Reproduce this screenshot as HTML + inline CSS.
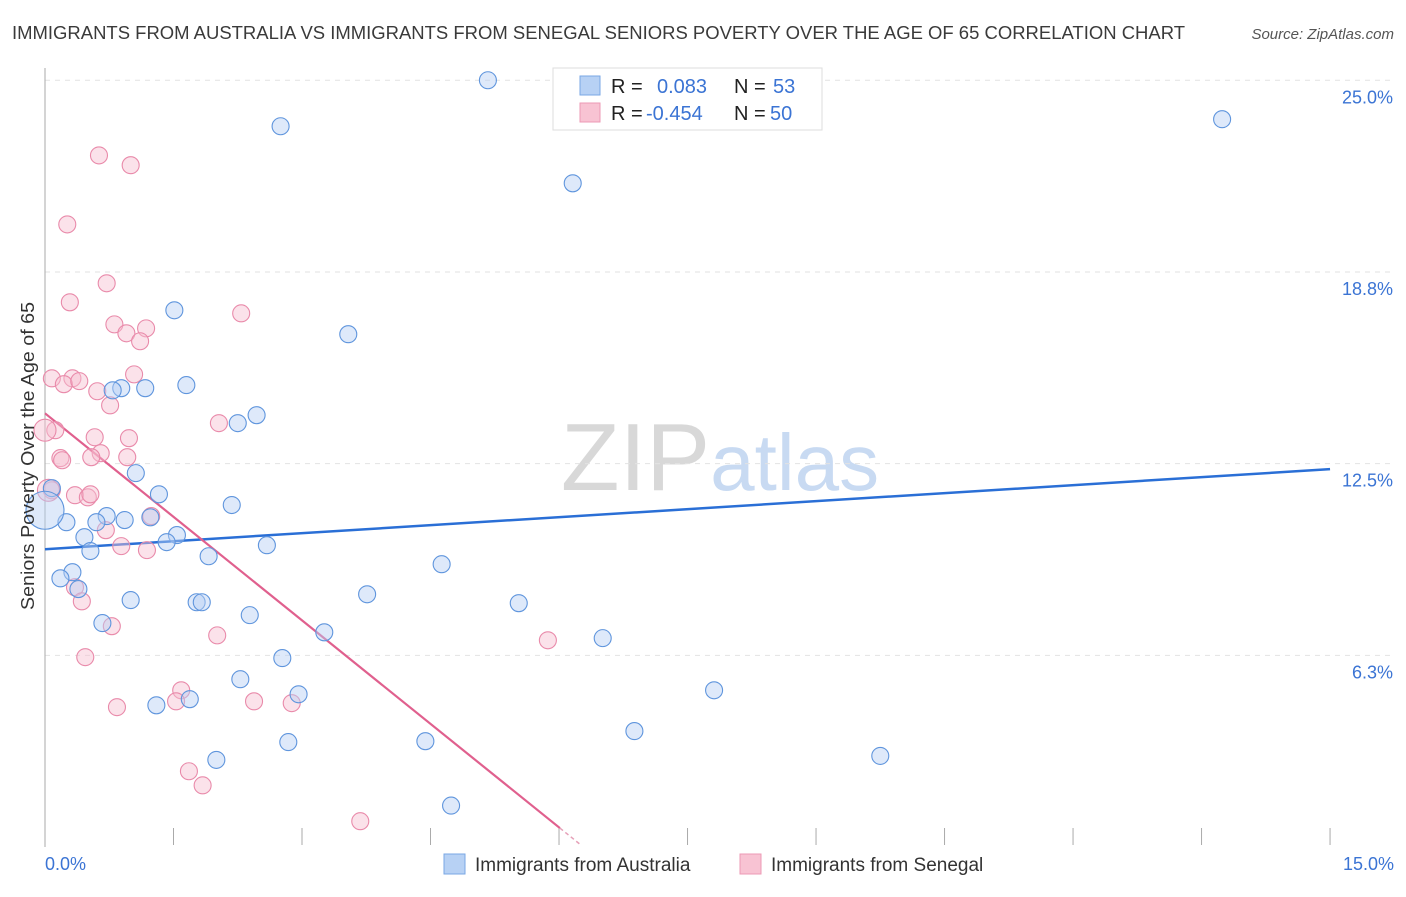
<!DOCTYPE html>
<html><head><meta charset="utf-8"><style>
body{margin:0;background:#fff;font-family:"Liberation Sans",sans-serif;}
svg text{font-family:"Liberation Sans",sans-serif;}
</style></head><body>
<svg id="chart" width="1406" height="892" xmlns="http://www.w3.org/2000/svg">
<text x="12" y="39" font-size="18" fill="#3a3a3a" textLength="1173" lengthAdjust="spacingAndGlyphs">IMMIGRANTS FROM AUSTRALIA VS IMMIGRANTS FROM SENEGAL SENIORS POVERTY OVER THE AGE OF 65 CORRELATION CHART</text>
<text x="1394" y="39" font-size="15" fill="#555" text-anchor="end" font-style="italic">Source: ZipAtlas.com</text>
<text x="720" y="490" font-size="96" text-anchor="middle" fill="#ddd" font-family="Liberation Serif"><tspan fill="#d8d8d8">ZIP</tspan><tspan fill="#c8daf2" font-family="Liberation Sans" font-size="80">atlas</tspan></text>
<g id="grid"></g>
<g id="axes"></g>
<g id="lines"></g>
<g id="pts"></g>
<text transform="translate(34,456) rotate(-90)" font-size="18" fill="#333" text-anchor="middle" textLength="308" lengthAdjust="spacingAndGlyphs">Seniors Poverty Over the Age of 65</text>
<text x="45" y="870" font-size="18" fill="#3b74d4">0.0%</text>
<text x="1394" y="870" font-size="18" fill="#3b74d4" text-anchor="end">15.0%</text>
<g>
<rect x="553" y="68" width="269" height="62" fill="#fff" stroke="#ddd"/>
<rect x="580" y="76" width="20" height="19" fill="#b7d1f4" stroke="#7aa7e4"/>
<rect x="580" y="103" width="20" height="19" fill="#f8c3d3" stroke="#ec9ab4"/>
<text y="93" font-size="20" fill="#222"><tspan x="611">R =</tspan><tspan x="657" fill="#3b74d4">0.083</tspan><tspan x="734">N =</tspan><tspan x="773" fill="#3b74d4">53</tspan></text>
<text y="120" font-size="20" fill="#222"><tspan x="611">R =</tspan><tspan x="646" fill="#3b74d4">-0.454</tspan><tspan x="734">N =</tspan><tspan x="770" fill="#3b74d4">50</tspan></text>
</g>
<g>
<rect x="444" y="854" width="21" height="20" fill="#b7d1f4" stroke="#7aa7e4"/>
<text x="475" y="871" font-size="19" fill="#333">Immigrants from Australia</text>
<rect x="740" y="854" width="21" height="20" fill="#f8c3d3" stroke="#ec9ab4"/>
<text x="771" y="871" font-size="19" fill="#333">Immigrants from Senegal</text>
</g>
</svg>
<script>
const yTicks=[25,18.75,12.5,6.25];
const yTickLabels=["25.0%","18.8%","12.5%","6.3%"];
const blueX=[5.17,2.75,13.74,6.16,1.51,3.54,1.65,0.89,1.17,0.79,2.47,2.25,1.06,0.08,1.33,2.18,0.72,0.93,0.60,0.25,1.23,1.54,0.46,1.42,2.59,0.53,1.91,4.63,0.32,0.18,0.39,3.76,1.00,1.77,1.83,5.53,2.39,0.67,3.26,6.51,2.77,2.28,7.81,2.96,1.69,1.30,6.88,2.84,4.44,2.00,9.75,4.74,0.0];
const blueY=[25.0,23.5,23.73,21.64,17.5,16.72,15.06,14.96,14.96,14.89,14.08,13.82,12.19,11.7,11.5,11.15,10.79,10.66,10.59,10.59,10.75,10.17,10.1,9.94,9.84,9.65,9.48,9.22,8.96,8.76,8.41,8.24,8.05,7.98,7.98,7.95,7.56,7.3,7.0,6.81,6.16,5.47,5.11,4.98,4.82,4.62,3.78,3.42,3.45,2.84,2.97,1.35,10.98];
const pinkX=[0.63,1.0,0.26,0.72,0.29,2.29,0.81,1.18,0.95,1.11,0.08,1.04,0.32,0.22,0.4,0.61,0.76,2.03,0.12,0.58,0.98,0.18,0.2,0.65,0.96,0.54,0.35,0.5,0.53,0.08,1.24,0.71,0.89,1.19,0.35,0.43,0.78,2.01,5.87,0.47,1.59,1.53,2.44,2.88,0.84,1.68,1.84,3.68,0.04,0.0];
const pinkY=[22.55,22.23,20.3,18.38,17.76,17.4,17.04,16.91,16.75,16.49,15.28,15.41,15.28,15.09,15.19,14.86,14.4,13.82,13.59,13.36,13.33,12.68,12.61,12.84,12.71,12.71,11.47,11.4,11.5,11.63,10.79,10.33,9.81,9.68,8.47,8.01,7.2,6.9,6.74,6.19,5.11,4.75,4.75,4.69,4.56,2.47,2.01,0.84,11.63,13.59];
const blueTrend=[9.71,12.32];
const pinkTrend=[14.14,-2.25,6.01,6.25];
const NS="http://www.w3.org/2000/svg";
const X=v=>45+v*85.67, Y=v=>847-v*30.67;
function mk(t,a,p){const e=document.createElementNS(NS,t);for(const k in a)e.setAttribute(k,a[k]);p.appendChild(e);return e;}
const grid=document.getElementById('grid'),axes=document.getElementById('axes'),lines=document.getElementById('lines'),pts=document.getElementById('pts');
yTicks.forEach((t,i)=>{
 const l=mk('line',{x1:45,x2:1394,y1:Y(t),y2:Y(t),stroke:'#e2e2e2','stroke-dasharray':'5,5'},grid);
 
 
 const tx=mk('text',{x:1393,y:Y(t)+23,'font-size':18,fill:'#3b74d4','text-anchor':'end'},grid);
 tx.textContent=yTickLabels[i];
 
 
});
const ax=mk('line',{x1:45,x2:45,y1:68,y2:847,stroke:'#aaa'},axes);


for(let i=0;i<=10;i++){const t=mk('line',{x1:X(i*1.5),x2:X(i*1.5),y1:828,y2:845,stroke:'#aaa'},axes);
 
 }
function dot(x,y,r,f,s,n){const c=mk('circle',{cx:X(x),cy:Y(y),r:r,fill:f,'fill-opacity':0.45,stroke:s,'stroke-width':1.1},pts);
 
 }
pinkX.forEach((x,i)=>dot(x,pinkY[i],i>=48?11:8.5,'#f7bfd0','#e98aaa','senegal-point'));
blueX.forEach((x,i)=>dot(x,blueY[i],i==52?19:8.5,'#b5cff3','#5f95dd','australia-point'));
const bl=mk('line',{x1:X(0),y1:Y(blueTrend[0]),x2:X(15),y2:Y(blueTrend[1]),stroke:'#2a6fd6','stroke-width':2.5},lines);


const pe=pinkTrend[0]+pinkTrend[1]*pinkTrend[2], pe2=pinkTrend[0]+pinkTrend[1]*pinkTrend[3];
const pl=mk('line',{x1:X(0),y1:Y(pinkTrend[0]),x2:X(pinkTrend[2]),y2:Y(pe),stroke:'#e0608e','stroke-width':2.2},lines);


const pd=mk('line',{x1:X(pinkTrend[2]),y1:Y(pe),x2:X(pinkTrend[3]),y2:Y(pe2),stroke:'#e6a0b8','stroke-width':1.5,'stroke-dasharray':'4,3'},lines);


</script>
</body></html>
